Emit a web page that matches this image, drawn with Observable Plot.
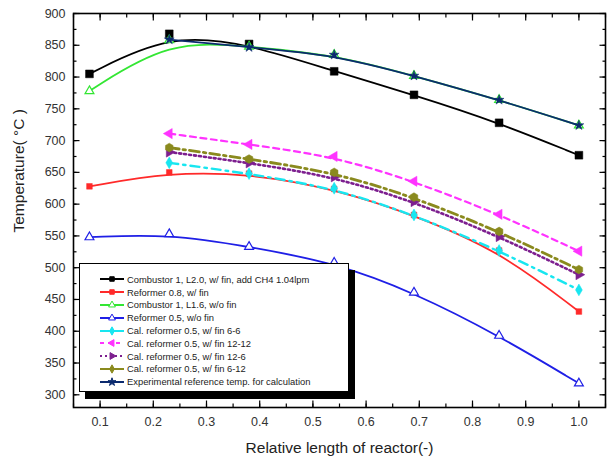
<!DOCTYPE html>
<html>
<head>
<meta charset="utf-8">
<script src="https://cdn.jsdelivr.net/npm/d3@7"></script>
<script src="https://cdn.jsdelivr.net/npm/@observablehq/plot@0.6"></script>
<style>
  html, body { margin: 0; padding: 0; background: #fff; }
  #wrap { position: relative; width: 610px; height: 461px; font-family: "Liberation Sans", Arial, sans-serif; }
  #wrap svg.plot { position: absolute; left: 0; top: 0; }
  #legend { position: absolute; left: 79px; top: 263px; width: 270px; height: 129px; background: #fff;
    border: 1px solid #000; box-shadow: 6px 7px 0 #000; box-sizing: border-box; padding-top: 9px; }
  .row { display: flex; align-items: center; height: 12.8px; font-size: 9.4px; color: #222; white-space: nowrap; }
  .row svg { margin-left: 19px; margin-right: 2px; flex: none; }
</style>
</head>
<body>
<div id="wrap"></div>
<script>
// ---- data ----
const xAll = [0.08, 0.23, 0.38, 0.54, 0.69, 0.85, 1.0];
const xCal = [0.23, 0.38, 0.54, 0.69, 0.85, 1.0];

const combustor20 = [805, 868, 852, 809, 772, 728, 677];
const reformer08  = [628, 650, 648, 624, 583, 527, 431];
const combustor16 = [778, 858, 848, 835, 802, 764, 724];
const reformer05  = [548, 553, 533, 508, 461, 393, 318];
const cal66   = [665, 648, 625, 583, 527, 465];
const cal1212 = [711, 694, 675, 636, 584, 526];
const cal126  = [682, 665, 643, 604, 549, 489];
const cal612  = [689, 671, 650, 611, 557, 497];
const expRef  = [859, 847, 835, 802, 764, 724];

const names = [
  "Combustor 1, L2.0, w/ fin, add CH4 1.04lpm",
  "Reformer 0.8, w/ fin",
  "Combustor 1, L1.6, w/o fin",
  "Reformer 0.5, w/o fin",
  "Cal. reformer 0.5, w/ fin 6-6",
  "Cal. reformer 0.5, w/ fin 12-12",
  "Cal. reformer 0.5, w/ fin 12-6",
  "Cal. reformer 0.5, w/ fin  6-12",
  "Experimental reference temp. for calculation"
];
const xTicks = [0.1, 0.2, 0.3, 0.4, 0.5, 0.6, 0.7, 0.8, 0.9, 1.0];
const yTicks = [300, 350, 400, 450, 500, 550, 600, 650, 700, 750, 800, 850, 900];

// ---- styles per series ----
const series = [
  {name: names[0], xs: xAll, ys: combustor20, color: "#000000", dash: null, sym: "square", fill: true, r: 4.4, rot: 0, w: 1.8},
  {name: names[1], xs: xAll, ys: reformer08, color: "#ff2a2a", dash: null, sym: "square", fill: true, r: 3.2, rot: 0, w: 1.8},
  {name: names[2], xs: xAll, ys: combustor16, color: "#33e633", dash: null, sym: "triangle", fill: false, r: 3.3, rot: 0, w: 1.8},
  {name: names[3], xs: xAll, ys: reformer05, color: "#1f1fe6", dash: null, sym: "triangle", fill: false, r: 3.3, rot: 0, w: 1.8},
  {name: names[4], xs: xCal, ys: cal66, color: "#18e6f0", dash: "9,5,2.5,5", sym: "diamond", fill: true, r: 3.6, rot: 0, w: 2.4},
  {name: names[5], xs: xCal, ys: cal1212, color: "#ff33ff", dash: "6,4.5", sym: "triangle", fill: true, r: 3.8, rot: -90, w: 2.2},
  {name: names[6], xs: xCal, ys: cal126, color: "#7d1f8f", dash: "2,3", sym: "triangle", fill: true, r: 3.8, rot: 90, w: 2.6},
  {name: names[7], xs: xCal, ys: cal612, color: "#8a8a1e", dash: "10,4,2.5,4", sym: "hexagon", fill: true, r: 3.8, rot: 0, w: 2.8},
  {name: names[8], xs: xCal, ys: expRef, color: "#0b2a6e", dash: null, sym: "star", fill: true, r: 3.1, rot: 0, w: 1.8}
];

const rows = series.map(s => s.xs.map((x, i) => ({x, y: s.ys[i], name: s.name})));

const marks = [];
series.forEach((s, k) => {
  marks.push(Plot.line(rows[k], {x: "x", y: "y", curve: "basis", stroke: s.color, strokeWidth: s.w,
    strokeDasharray: s.dash || undefined}));
  marks.push(Plot.dot(rows[k], {x: "x", y: "y", symbol: s.sym, r: s.r, rotate: s.rot,
    fill: s.fill ? s.color : "white", stroke: s.color, strokeWidth: s.fill ? 0.5 : 1.2}));
});

const minorX = d3.range(0.05, 1.051, 0.05).map(v => +v.toFixed(2));
const minorY = d3.range(275, 901, 25).filter(v => v >= 280);

const tickStyle = {stroke: "#000", strokeWidth: 1.2};
const MAJ = 6.5, MIN = 3.5;
const chart = Plot.plot({
  width: 610, height: 461,
  marginLeft: 73, marginRight: 5, marginTop: 13, marginBottom: 54,
  x: {domain: [0.05, 1.05]},
  y: {domain: [280, 900]},
  style: {fontFamily: "Liberation Sans, Arial, sans-serif", color: "#333", background: "white"},
  marks: [
    ...marks,
    Plot.axisX(minorX, {anchor: "bottom", tickSize: MIN, dy: -MIN, text: null, label: null, ...tickStyle}),
    Plot.axisX(xTicks, {anchor: "bottom", tickSize: MAJ, dy: -MAJ, text: null, label: null, ...tickStyle}),
    Plot.axisX(xTicks, {anchor: "bottom", tickSize: 0, tickFormat: d3.format(".1f"), tickPadding: 10, fontSize: 12.5, label: null}),
    Plot.axisX(minorX, {anchor: "top", tickSize: MIN, dy: MIN, text: null, label: null, ...tickStyle}),
    Plot.axisX(xTicks, {anchor: "top", tickSize: MAJ, dy: MAJ, text: null, label: null, ...tickStyle}),
    Plot.axisY(minorY, {anchor: "left", tickSize: MIN, dx: MIN, text: null, label: null, ...tickStyle}),
    Plot.axisY(yTicks, {anchor: "left", tickSize: MAJ, dx: MAJ, text: null, label: null, ...tickStyle}),
    Plot.axisY(yTicks, {anchor: "left", tickSize: 0, tickPadding: 8, fontSize: 12.5, label: null}),
    Plot.axisY(minorY, {anchor: "right", tickSize: MIN, dx: -MIN, text: null, label: null, ...tickStyle}),
    Plot.axisY(yTicks, {anchor: "right", tickSize: MAJ, dx: -MAJ, text: null, label: null, ...tickStyle}),
    Plot.frame({stroke: "#000", strokeWidth: 1.6}),
    Plot.text(["Relative length of reactor(-)"], {frameAnchor: "bottom", dy: 45, fontSize: 15.5, fill: "#222"}),
    Plot.text(["Temperature( °C )"], {frameAnchor: "left", rotate: -90, dx: -54, dy: 22, fontSize: 15.5, fill: "#222"})
  ]
});
chart.classList.add("plot");
const wrap = document.getElementById("wrap");
wrap.appendChild(chart);

// ---- legend ----
const legend = document.createElement("div");
legend.id = "legend";
const symMap = {square: d3.symbolSquare, triangle: d3.symbolTriangle, diamond: d3.symbolDiamond, star: d3.symbolStar, hexagon: d3.symbolDiamond};
series.forEach(s => {
  const row = document.createElement("div");
  row.className = "row";
  const svg = d3.create("svg").attr("width", 26).attr("height", 10);
  let dash = null;
  if (s.name === names[5]) dash = "4,4";
  if (s.name === names[6]) dash = "2,3";
  svg.append("line").attr("x1", 1).attr("x2", 25).attr("y1", 5).attr("y2", 5)
    .attr("stroke", s.color).attr("stroke-width", 2).attr("stroke-dasharray", dash);
  svg.append("path").attr("d", d3.symbol(symMap[s.sym], 20)())
    .attr("transform", `translate(13,5) rotate(${s.rot})`)
    .attr("fill", s.fill ? s.color : "white").attr("stroke", s.color).attr("stroke-width", 1);
  row.appendChild(svg.node());
  const t = document.createElement("span");
  t.textContent = s.name;
  row.appendChild(t);
  legend.appendChild(row);
});
wrap.appendChild(legend);
</script>
</body>
</html>
